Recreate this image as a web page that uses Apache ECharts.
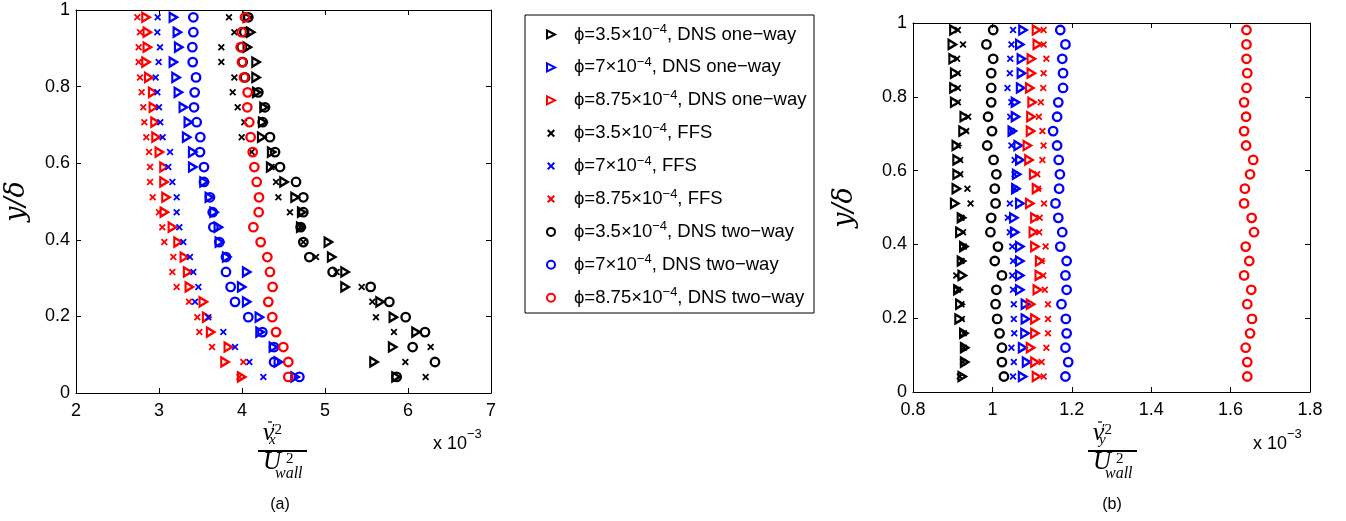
<!DOCTYPE html>
<html><head><meta charset="utf-8">
<script src="https://cdn.jsdelivr.net/npm/echarts@6/dist/echarts.min.js"></script>
<style>html,body{margin:0;padding:0;background:#fff}#c{width:1346px;height:521px}</style>
</head><body><div id="c"></div>
<script>
// y/delta positions of the measurement rows (top to bottom)
const yPos = [0.981,0.942,0.903,0.864,0.824,0.785,0.746,0.707,0.668,0.629,0.590,0.551,0.511,0.472,0.433,0.394,0.355,0.316,0.277,0.238,0.198,0.159,0.120,0.081,0.042];

// (a) streamwise fluctuation, units of 1e-3
const a_one_35 = [4.064,4.104,4.064,4.169,4.169,4.177,4.265,4.249,4.237,4.357,4.345,4.506,4.639,4.719,4.707,5.040,5.080,5.241,5.241,5.663,5.823,6.096,5.815,5.590,5.855];
const a_one_7  = [3.173,3.221,3.237,3.173,3.205,3.233,3.293,3.353,3.333,3.406,3.406,3.542,3.606,3.663,3.715,3.727,3.815,4.056,3.996,4.056,4.209,4.217,4.378,4.438,4.639];
const a_one_875= [2.843,2.859,2.859,2.843,2.876,2.924,2.932,2.952,2.964,3.004,3.060,3.060,3.084,3.064,3.161,3.229,3.305,3.345,3.365,3.534,3.574,3.622,3.835,3.795,3.996];
const a_ffs_35 = [3.843,3.908,3.751,3.751,3.908,3.888,3.948,4.028,3.996,4.116,4.357,4.410,4.438,4.578,4.700,4.739,4.892,5.140,5.442,5.570,5.614,5.831,6.273,5.968,6.213];
const a_ffs_7  = [2.984,2.980,3.012,2.996,2.960,2.980,3.000,3.016,3.044,3.133,3.112,3.161,3.213,3.213,3.245,3.293,3.373,3.414,3.474,3.434,3.594,3.775,3.916,4.088,4.257];
const a_ffs_875= [2.739,2.771,2.755,2.755,2.771,2.791,2.811,2.823,2.847,2.880,2.892,2.892,2.924,3.000,3.040,3.064,3.173,3.161,3.213,3.361,3.462,3.486,3.639,4.016,3.968];
const a_two_35 = [4.076,4.028,3.996,4.008,4.036,4.197,4.277,4.249,4.337,4.398,4.458,4.651,4.739,4.739,4.707,4.739,4.811,5.092,5.550,5.775,5.972,6.205,6.056,6.325,5.863];
const a_two_7  = [3.414,3.414,3.402,3.406,3.446,3.430,3.422,3.454,3.498,3.494,3.542,3.542,3.614,3.647,3.655,3.727,3.807,3.807,3.863,3.916,4.076,4.245,4.386,4.386,4.691];
const a_two_875= [4.036,3.996,3.984,4.000,4.024,4.068,4.064,4.088,4.104,4.129,4.149,4.177,4.205,4.201,4.137,4.225,4.305,4.337,4.369,4.317,4.365,4.410,4.498,4.558,4.558];

// (b) wall-normal fluctuation, units of 1e-3
const b_one_35 = [0.903,0.899,0.901,0.905,0.903,0.905,0.929,0.926,0.909,0.911,0.911,0.909,0.905,0.922,0.918,0.928,0.922,0.924,0.913,0.918,0.916,0.928,0.930,0.930,0.924];
const b_one_7  = [1.077,1.069,1.073,1.073,1.071,1.058,1.058,1.050,1.065,1.069,1.061,1.059,1.069,1.054,1.056,1.069,1.069,1.069,1.069,1.083,1.083,1.082,1.076,1.086,1.076];
const b_one_875= [1.111,1.113,1.098,1.098,1.094,1.100,1.097,1.096,1.088,1.092,1.104,1.111,1.094,1.107,1.103,1.107,1.119,1.118,1.113,1.096,1.107,1.107,1.096,1.107,1.111];
const b_ffs_35 = [0.913,0.926,0.911,0.913,0.913,0.913,0.939,0.934,0.913,0.919,0.919,0.937,0.945,0.922,0.926,0.928,0.922,0.909,0.913,0.922,0.923,0.928,0.928,0.926,0.918];
const b_ffs_7  = [1.052,1.048,1.045,1.044,1.038,1.048,1.045,1.048,1.048,1.056,1.056,1.056,1.044,1.039,1.044,1.050,1.052,1.050,1.052,1.054,1.054,1.055,1.048,1.054,1.052];
const b_ffs_875= [1.129,1.129,1.136,1.129,1.128,1.122,1.117,1.126,1.129,1.126,1.113,1.115,1.130,1.119,1.118,1.134,1.124,1.128,1.132,1.140,1.140,1.140,1.136,1.124,1.129];
const b_two_35 = [1.002,0.985,1.002,0.997,0.997,0.997,0.989,0.999,0.987,1.003,1.010,1.006,1.008,0.997,0.995,1.014,1.006,1.024,1.010,1.008,1.012,1.018,1.024,1.024,1.029];
const b_two_7  = [1.171,1.184,1.176,1.178,1.178,1.166,1.163,1.153,1.163,1.167,1.170,1.168,1.159,1.166,1.176,1.171,1.187,1.184,1.187,1.174,1.185,1.187,1.184,1.191,1.184];
const b_two_875= [1.640,1.640,1.640,1.642,1.640,1.634,1.639,1.634,1.639,1.657,1.649,1.636,1.634,1.653,1.659,1.638,1.647,1.634,1.652,1.642,1.654,1.649,1.638,1.642,1.642];

const phiLabels = ['3.5','7','8.75'];
const methodLabels = ['DNS one\u2212way','FFS','DNS two\u2212way'];
const xTicksA = {min:2, max:7, interval:1};
const xTicksB = {min:0.8, max:1.8, interval:0.2};
const yTicks = {min:0, max:1, interval:0.2};

const colors = ['#000000','#0000ff','#ff0000'];
const TRI = 'path://M0,0L10,5L0,10Z';
const CROSS = 'path://M0,1.8L1.8,0L5,3.2L8.2,0L10,1.8L6.8,5L10,8.2L8.2,10L5,6.8L1.8,10L0,8.2L3.2,5Z';

const aSets = [[a_one_35,a_one_7,a_one_875],[a_ffs_35,a_ffs_7,a_ffs_875],[a_two_35,a_two_7,a_two_875]];
const bSets = [[b_one_35,b_one_7,b_one_875],[b_ffs_35,b_ffs_7,b_ffs_875],[b_two_35,b_two_7,b_two_875]];

function nameOf(m,p){ return 'phi=' + phiLabels[p] + '|' + methodLabels[m]; }
function styleOf(m,p){
  const c = colors[p];
  if (m===0) return {symbol:TRI, symbolSize:[7.5,9], itemStyle:{color:'rgba(0,0,0,0)', borderColor:c, borderWidth:2.3, opacity:1}};
  if (m===1) return {symbol:CROSS, symbolSize:7, itemStyle:{color:c, borderWidth:0, opacity:1}};
  return {symbol:'circle', symbolSize:8.5, itemStyle:{color:'rgba(0,0,0,0)', borderColor:c, borderWidth:2.3, opacity:1}};
}
const series = [];
const legendNames = [];
for (let m=0;m<3;m++) for (let p=0;p<3;p++) legendNames.push(nameOf(m,p));
[aSets,bSets].forEach((sets,g)=>{
  for (let m=0;m<3;m++) for (let p=0;p<3;p++){
    const st = styleOf(m,p);
    series.push(Object.assign({
      type:'scatter', name:nameOf(m,p), xAxisIndex:g, yAxisIndex:g,
      data: sets[m][p].map((v,i)=>[v,yPos[i]]),
      emphasis:{disabled:true}, silent:true
    }, st));
  }
});

const sans = 'Liberation Sans, Arial, sans-serif';
const labelFont = {color:'#000', fontSize:18, fontFamily:sans};
function xAx(grid, t, pos, show){
  return {type:'value', gridIndex:grid, position:pos, min:t.min, max:t.max, interval:t.interval,
    axisLine:{show:true, onZero:false, lineStyle:{color:'#000', width:1}},
    axisTick:{show:true, inside:true, length:5, lineStyle:{color:'#000'}},
    axisLabel:Object.assign({show:show, margin:9}, labelFont),
    splitLine:{show:false}};
}
function yAx(grid, pos, show, gap){
  const o = {type:'value', gridIndex:grid, position:pos, min:yTicks.min, max:yTicks.max, interval:yTicks.interval,
    axisLine:{show:true, onZero:false, lineStyle:{color:'#000', width:1}},
    axisTick:{show:true, inside:true, length:5, lineStyle:{color:'#000'}},
    axisLabel:Object.assign({show:show, margin:6}, labelFont),
    splitLine:{show:false}};
  if (show){
    o.name = 'y/\u03b4'; o.nameLocation='middle'; o.nameRotate=90; o.nameGap=gap;
    o.nameTextStyle = {fontFamily:'DejaVu Serif, serif', fontStyle:'italic', fontSize:27, color:'#000'};
  }
  return o;
}

const serif = 'Liberation Serif, DejaVu Serif, serif';
function frac(x0, sub){
  const T = (x,y,text,size,italic,align) => ({type:'text', x:x, y:y, silent:true,
    style:{text:text, fontSize:size, fontFamily:serif, fontStyle:italic?'italic':'normal', fill:'#000', align:align||'left', verticalAlign:'middle'}});
  return [
    T(x0+10.5, 433, 'v', 26, true, 'center'),
    {type:'line', silent:true, shape:{x1:x0+10, y1:422, x2:x0+14, y2:422}, style:{stroke:'#000', lineWidth:1.2}},
    T(x0+13, 430, '\u2032', 15, true),
    T(x0+16.5, 430, '2', 15, false),
    T(x0+11, 440, sub, 15, true),
    {type:'line', silent:true, shape:{x1:x0, y1:451, x2:x0+49, y2:451}, style:{stroke:'#000', lineWidth:2}},
    T(x0+14, 462, 'U', 25, true, 'center'),
    T(x0+28, 459, '2', 15, false),
    T(x0+17, 474, 'wall', 16, true)
  ];
}
function times10(xRight){
  return [
    {type:'text', x:xRight-23, y:444, silent:true, style:{text:'x 10', fontSize:18, fontFamily:sans, fill:'#000', align:'right', verticalAlign:'middle'}},
    {type:'text', x:xRight-23, y:434, silent:true, style:{text:'\u22123', fontSize:13, fontFamily:sans, fill:'#000', align:'left', verticalAlign:'middle'}}
  ];
}

const chart = echarts.init(document.getElementById('c'));
chart.setOption({
  animation:false,
  backgroundColor:'#fff',
  grid:[{left:76, top:10, width:415, height:383},{left:913, top:23, width:397, height:369}],
  xAxis:[xAx(0,xTicksA,'bottom',true), xAx(1,xTicksB,'bottom',true), xAx(0,xTicksA,'top',false), xAx(1,xTicksB,'top',false)],
  yAxis:[yAx(0,'left',true,46), yAx(1,'left',true,55), yAx(0,'right',false), yAx(1,'right',false)],
  legend:{
    data:legendNames, orient:'vertical', left:546, top:23, itemWidth:36, itemHeight:8, itemGap:11.9,
    padding:0, selectedMode:false,
    formatter:function(n){ const parts=n.split('|'); const phi=parts[0].split('=')[1];
      return '{t|\u03d5=' + phi + '\u00d710}{s|\u22124}{t|, ' + parts[1] + '}'; },
    textStyle:{color:'#000', fontSize:18.5, fontFamily:sans,
      rich:{ t:{fontSize:18.5, fontFamily:sans, color:'#000', lineHeight:22},
             s:{fontSize:13, fontFamily:sans, color:'#000', padding:[0,0,10,0]} } }
  },
  graphic:[
    {type:'rect', silent:true, shape:{x:525, y:15, width:289, height:298}, style:{fill:'none', stroke:'#000', lineWidth:1}},
    ...frac(258,'x'), ...frac(1088,'y'),
    ...times10(490), ...times10(1310),
    {type:'text', x:280, y:505, silent:true, style:{text:'(a)', fontSize:16, fontFamily:sans, fill:'#000', align:'center', verticalAlign:'middle'}},
    {type:'text', x:1112, y:505, silent:true, style:{text:'(b)', fontSize:16, fontFamily:sans, fill:'#000', align:'center', verticalAlign:'middle'}}
  ],
  series:series
});
</script>
</body></html>
